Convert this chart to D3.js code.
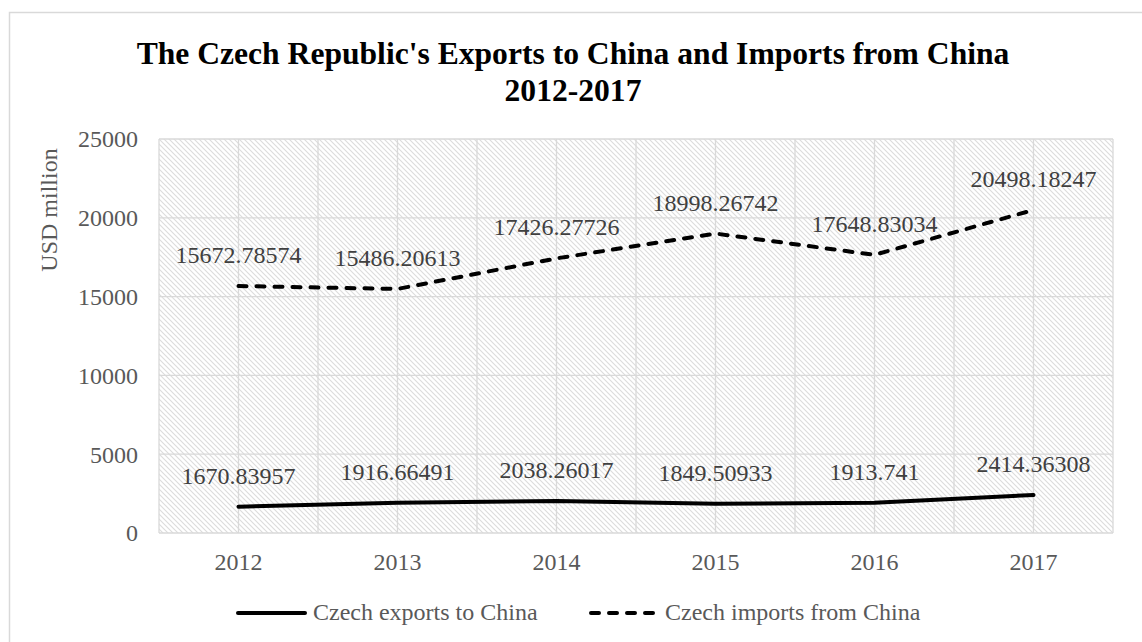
<!DOCTYPE html>
<html>
<head>
<meta charset="utf-8">
<script src="https://cdn.jsdelivr.net/npm/d3@7"></script>
<style>
  html, body { margin: 0; padding: 0; background: #fff; }
  svg { display: block; }
</style>
</head>
<body>
<svg id="chart" width="1142" height="642"></svg>
<script>
// Czech trade with China, USD million
const years = ["2012", "2013", "2014", "2015", "2016", "2017"];
const exportsToChina = [1670.83957, 1916.66491, 2038.26017, 1849.50933, 1913.741, 2414.36308];
const importsFromChina = [15672.78574, 15486.20613, 17426.27726, 18998.26742, 17648.83034, 20498.18247];
const yTicks = [0, 5000, 10000, 15000, 20000, 25000];
const seriesNames = ["Czech exports to China", "Czech imports from China"];
const titleLines = ["The Czech Republic's Exports to China and Imports from China", "2012-2017"];
const yAxisTitle = "USD million";

const svg = d3.select("#chart");
const W = 1142, H = 642;
const plot = { left: 159, right: 1113, top: 139, bottom: 533 };
const serif = "'Liberation Serif', 'Times New Roman', serif";
const labelSize = 24;

// Outer chart frame
svg.append("rect")
  .attr("x", 9.5).attr("y", 12.5)
  .attr("width", W + 20).attr("height", H + 20)
  .attr("fill", "#fff").attr("stroke", "#d9d9d9").attr("stroke-width", 1.5);

// Diagonal hatch fill for the plot area
const defs = svg.append("defs");
const pat = defs.append("pattern")
  .attr("id", "hatch").attr("patternUnits", "userSpaceOnUse")
  .attr("width", 5).attr("height", 5);
pat.append("rect").attr("width", 5).attr("height", 5).attr("fill", "#fff");
pat.append("path")
  .attr("d", "M0,0L5,5M-1,4L1,6M4,-1L6,1")
  .attr("stroke", "#dcdcdc").attr("stroke-width", 1.1);

const x = d3.scaleBand().domain(years).range([plot.left, plot.right]);
const y = d3.scaleLinear().domain([0, 25000]).range([plot.bottom, plot.top]);
const cx = d => x(d) + x.bandwidth() / 2;

svg.append("rect")
  .attr("x", plot.left).attr("y", plot.top)
  .attr("width", plot.right - plot.left).attr("height", plot.bottom - plot.top)
  .attr("fill", "url(#hatch)");

// Gridlines: horizontal at each tick, vertical at category edges and centres
const grid = svg.append("g").attr("stroke", "#d9d9d9").attr("stroke-width", 1.3);
grid.selectAll("line.h").data(yTicks).join("line")
  .attr("x1", plot.left).attr("x2", plot.right)
  .attr("y1", d => y(d)).attr("y2", d => y(d));
const vPos = years.flatMap(d => [x(d), cx(d)]).concat([plot.right]);
grid.selectAll("line.v").data(vPos).join("line")
  .attr("x1", d => d).attr("x2", d => d)
  .attr("y1", plot.top).attr("y2", plot.bottom);

// Y axis labels
const yAxis = svg.append("g")
  .attr("transform", `translate(138,0)`)
  .call(d3.axisLeft(y).tickValues(yTicks).tickSize(0).tickPadding(0).tickFormat(d3.format("d")));
yAxis.select(".domain").remove();
yAxis.selectAll("text")
  .attr("font-family", serif).attr("font-size", labelSize).attr("fill", "#595959")
  .attr("dy", "0.33em");

// X axis labels
const xAxis = svg.append("g")
  .attr("transform", `translate(0,${plot.bottom})`)
  .call(d3.axisBottom(x).tickSize(0).tickPadding(20));
xAxis.select(".domain").remove();
xAxis.selectAll("text")
  .attr("font-family", serif).attr("font-size", labelSize).attr("fill", "#595959");

// Axis title
svg.append("text")
  .attr("transform", `translate(57,210) rotate(-90)`)
  .attr("text-anchor", "middle")
  .attr("font-family", serif).attr("font-size", labelSize).attr("fill", "#595959")
  .text(yAxisTitle);

// Chart title
svg.append("g").selectAll("text").data(titleLines).join("text")
  .attr("x", 573).attr("y", (d, i) => 64 + i * 37)
  .attr("text-anchor", "middle")
  .attr("font-family", serif).attr("font-size", 31.6).attr("font-weight", "bold")
  .attr("fill", "#000")
  .text(d => d);

// Series lines
const series = [
  { name: seriesNames[0], values: exportsToChina, dash: null },
  { name: seriesNames[1], values: importsFromChina, dash: "8,10" }
];
const line = d3.line().x((d, i) => cx(years[i])).y(d => y(d));

series.forEach(s => {
  svg.append("path")
    .datum(s.values)
    .attr("d", line)
    .attr("fill", "none").attr("stroke", "#000").attr("stroke-width", 4)
    .attr("stroke-linecap", "round").attr("stroke-linejoin", "round")
    .attr("stroke-dasharray", s.dash);

  svg.append("g").selectAll("text").data(s.values).join("text")
    .attr("x", (d, i) => cx(years[i]))
    .attr("y", d => y(d) - 23)
    .attr("text-anchor", "middle")
    .attr("font-family", serif).attr("font-size", labelSize).attr("fill", "#404040")
    .text(d => String(d));
});

// Legend
const legendItems = [
  { x1: 238, x2: 305, tx: 313 },
  { x1: 591, x2: 656, tx: 665 }
];
const lg = svg.append("g");
series.forEach((s, i) => {
  const p = legendItems[i];
  lg.append("line")
    .attr("x1", p.x1).attr("x2", p.x2).attr("y1", 613).attr("y2", 613)
    .attr("stroke", "#000").attr("stroke-width", 4)
    .attr("stroke-linecap", "round").attr("stroke-dasharray", s.dash);
  lg.append("text")
    .attr("x", p.tx).attr("y", 620)
    .attr("font-family", serif).attr("font-size", labelSize).attr("fill", "#595959")
    .text(s.name);
});
</script>
</body>
</html>
